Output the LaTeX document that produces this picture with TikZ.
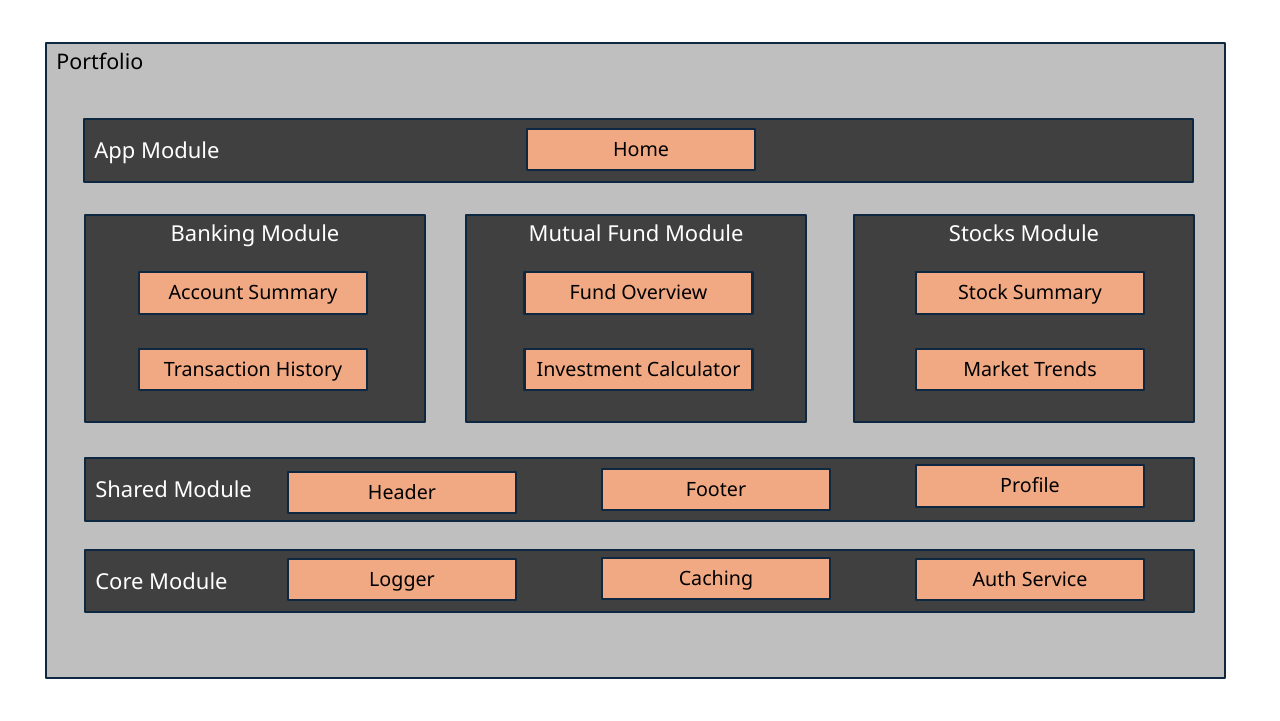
\documentclass[tikz,border=0pt]{standalone}
\usepackage{fontspec}
\setmainfont{Noto Sans}
\definecolor{frame}{HTML}{0E2841}
\definecolor{portgrey}{HTML}{BFBFBF}
\definecolor{moddark}{HTML}{404040}
\definecolor{comporange}{HTML}{F1A983}
\begin{document}
\begin{tikzpicture}[x=0.02cm,y=-0.02cm,line join=round]
	\tikzset{modbox/.style={draw=frame,fill=moddark,line width=1.2pt,inner sep=0pt},
		comp/.style={draw=frame,fill=comporange,line width=1.2pt,inner sep=0pt,minimum width=4.56cm,minimum height=0.83cm,text height=0.95em,text depth=0.2em,font=\fontsize{11.2}{13}\selectfont,text=black},
		modlabel/.style={text=white,font=\fontsize{12.5}{14}\selectfont,inner sep=0pt,text height=0.95em,text depth=0.2em}}
	\useasboundingbox[fill=white] (0,0) rectangle (1280,720);
	% outer frame
	\node[draw=frame,fill=portgrey,line width=1.2pt,minimum width=23.58cm,minimum height=12.7cm] (port) at (635.5,360.5) {};
	\node[anchor=west,inner sep=0pt,text height=0.95em,text depth=0.2em,font=\fontsize{12.2}{14}\selectfont] (portlabel) at (56,63) {Portfolio};
	% modules
	\node[modbox,minimum width=22.18cm,minimum height=1.26cm] (app) at (638.5,150.5) {};
	\node[modbox,minimum width=6.8cm,minimum height=4.14cm] (bank) at (255,318.5) {};
	\node[modbox,minimum width=6.8cm,minimum height=4.14cm] (fund) at (636,318.5) {};
	\node[modbox,minimum width=6.8cm,minimum height=4.14cm] (stock) at (1024,318.5) {};
	\node[modbox,minimum width=22.18cm,minimum height=1.26cm] (shared) at (639.5,489.5) {};
	\node[modbox,minimum width=22.18cm,minimum height=1.24cm] (core) at (639.5,581) {};
	\node[modlabel,anchor=west] (applabel) at (94,151.5) {App Module};
	\node[modlabel] (banklabel) at (255,234.5) {Banking Module};
	\node[modlabel] (fundlabel) at (636,234.5) {Mutual Fund Module};
	\node[modlabel] (stocklabel) at (1024,234.5) {Stocks Module};
	\node[modlabel,anchor=west] (sharedlabel) at (95,490.5) {Shared Module};
	\node[modlabel,anchor=west] (corelabel) at (95,582.5) {Core Module};
	% components
	\node[comp] (home) at (641,149.5) {Home};
	\node[comp] (account) at (253,293) {Account Summary};
	\node[comp] (history) at (253,369.5) {Transaction History};
	\node[comp] (overview) at (638.5,293) {Fund Overview};
	\node[comp] (calc) at (638.5,369.5) {Investment Calculator};
	\node[comp] (summary) at (1030,293) {Stock Summary};
	\node[comp] (trends) at (1030,369.5) {Market Trends};
	\node[comp] (header) at (402,492.5) {Header};
	\node[comp] (footer) at (716,489.5) {Footer};
	\node[comp] (profile) at (1030,486) {Profile};
	\node[comp] (logger) at (402,579.5) {Logger};
	\node[comp] (caching) at (716,578.5) {Caching};
	\node[comp] (auth) at (1030,579.5) {Auth Service};
\end{tikzpicture}
\end{document}
